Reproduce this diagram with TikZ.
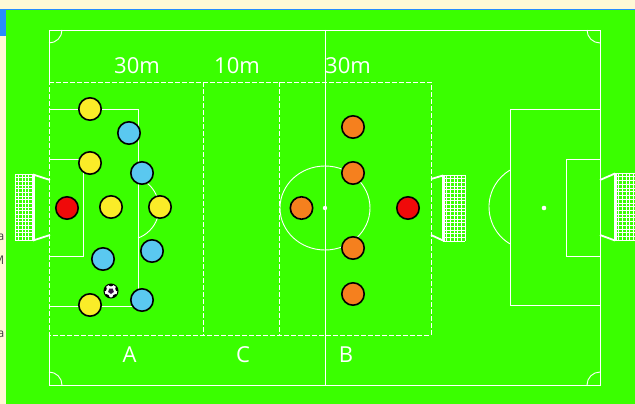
\documentclass[tikz,border=0pt]{standalone}
\usepackage{fontspec}
\setmainfont{Open Sans}
\definecolor{turf}{RGB}{58,255,0}
\definecolor{paper}{RGB}{255,249,214}
\definecolor{barblue}{RGB}{40,140,255}
\definecolor{pyellow}{RGB}{250,236,40}
\definecolor{pblue}{RGB}{90,200,240}
\definecolor{pred}{RGB}{240,10,10}
\definecolor{porange}{RGB}{245,128,30}
\definecolor{patch}{RGB}{60,20,70}
\begin{document}
\begin{tikzpicture}[x=1pt,y=-1pt,
  pitchline/.style={white, line width=0.9pt},
  zoneline/.style={white, line width=0.9pt, dash pattern=on 5pt off 2pt},
  netline/.style={white, line width=0.5pt},
  goalpost/.style={white, line width=3pt},
  goalbar/.style={white, line width=1.8pt},
  player/.style={circle, draw=black, line width=1.6pt, minimum size=22.4pt, inner sep=0pt},
  lbl/.style={text=white, font=\fontsize{22}{22}\selectfont, anchor=base, inner sep=0pt},
  margintext/.style={text=black!75, font=\fontsize{12}{12}\selectfont, anchor=base east, inner sep=0pt}]
\useasboundingbox (0,0) rectangle (635,404);

% page background, header rule and turf
\fill[paper] (0,0) rectangle (635,404);
\fill[turf] (6,10) rectangle (635,404);
\fill[barblue] (0,9) rectangle (635,10.5);
\fill[barblue] (0,9) rectangle (6,36);

% text running off the left margin
\begin{scope}
  \clip (0,36) rectangle (5,404);
  \node[margintext] (m1) at (4.5,240) {a};
  \node[margintext] (m2) at (4.5,264) {M};
  \node[margintext] (m3) at (4.5,337) {a};
\end{scope}

% outer lines and halfway line
\draw[pitchline] (49,82) -- (49,30) -- (600,30) -- (600,385) -- (49,385) -- (49,335);
\draw[pitchline] (325,30) -- (325,385);
% corner arcs
\draw[pitchline] (62,30) arc[start angle=0, end angle=90, radius=13];
\draw[pitchline] (600,43) arc[start angle=90, end angle=180, radius=13];
\draw[pitchline] (587,385) arc[start angle=180, end angle=270, radius=13];
\draw[pitchline] (49,372) arc[start angle=270, end angle=360, radius=13];

% centre circle and spot
\draw[pitchline] (325,208) ellipse[x radius=45, y radius=42];
\fill[white] (325,208) circle (2.2);

% left penalty area, goal area and arc
\draw[pitchline] (49,109) -- (138,109) -- (138,306) -- (49,306);
\draw[pitchline] (49,159) -- (83,159) -- (83,256) -- (49,256);
\draw[pitchline] (127,208) ++(-70:32) arc[start angle=-70, end angle=70, radius=32];

% right penalty area, goal area, arc and spot
\draw[pitchline] (600,109) -- (510,109) -- (510,305) -- (600,305);
\draw[pitchline] (600,159) -- (566,159) -- (566,256) -- (600,256);
\draw[pitchline] (532,207) ++(121:43) arc[start angle=121, end angle=239, radius=43];
\fill[white] (544,208) circle (2.3);

% training zones A, C, B
\draw[zoneline] (49,82) -- (431,82) -- (431,335) -- (49,335) -- cycle;
\draw[zoneline] (203,82) -- (203,335);
\draw[zoneline] (279,82) -- (279,335);

% left goal (net outside the line)
\foreach \i in {0,...,5} \draw[netline] (15+\i*3.4,174) -- (15+\i*3.4,240);
\foreach \j in {0,...,18} \draw[netline] (15,174+\j*3.67) -- (33,174+\j*3.67);
\draw[goalpost] (33,174) -- (33,241);
\draw[goalbar] (33,174.5) -- (50,180);
\draw[goalbar] (33,240.5) -- (50,235);

% small goal at the end of zone B
\foreach \i in {0,...,6} \draw[netline] (443+\i*3.67,175) -- (443+\i*3.67,241);
\foreach \j in {0,...,18} \draw[netline] (443,175+\j*3.67) -- (465,175+\j*3.67);
\draw[goalpost] (443,175) -- (443,241);
\draw[goalbar] (431,179) -- (443,175.5);
\draw[goalbar] (431,235) -- (443,240.5);

% right goal
\foreach \i in {0,...,6} \draw[netline] (615+\i*3.67,173) -- (615+\i*3.67,241);
\foreach \j in {0,...,18} \draw[netline] (615,173+\j*3.72) -- (640,173+\j*3.72);
\draw[goalpost] (615,173) -- (615,241);
\draw[goalbar] (600,180) -- (615,173.5);
\draw[goalbar] (600,235) -- (615,240.5);

% distance labels and zone letters
\node[lbl] (d1) at (137,74) {30m};
\node[lbl] (d2) at (237,74) {10m};
\node[lbl] (d3) at (348,74) {30m};
\node[lbl] (zA) at (129.5,362) {A};
\node[lbl] (zC) at (243,362) {C};
\node[lbl] (zB) at (346,362) {B};

% yellow team
\node[player, fill=pyellow] (y1) at (90,109) {};
\node[player, fill=pyellow] (y2) at (90,163) {};
\node[player, fill=pyellow] (y3) at (111,207) {};
\node[player, fill=pyellow] (y4) at (160,207) {};
\node[player, fill=pyellow] (y5) at (90,305) {};
% blue team
\node[player, fill=pblue] (b1) at (129,133) {};
\node[player, fill=pblue] (b2) at (142,173) {};
\node[player, fill=pblue] (b3) at (103,259) {};
\node[player, fill=pblue] (b4) at (152,251) {};
\node[player, fill=pblue] (b5) at (142,300) {};
% goalkeepers
\node[player, fill=pred] (k1) at (67,208) {};
\node[player, fill=pred] (k2) at (408,208) {};
% orange team
\node[player, fill=porange] (o1) at (301.5,208) {};
\node[player, fill=porange] (o2) at (353,127) {};
\node[player, fill=porange] (o3) at (353,173) {};
\node[player, fill=porange] (o4) at (353,248) {};
\node[player, fill=porange] (o5) at (353,294) {};

% ball
\node[circle, fill=white, minimum size=14pt, inner sep=0pt] (ball) at (111,291) {};
\begin{scope}
  \clip (ball.center) circle (7);
  \fill[patch] (ball.center) +(90:3) -- +(162:3) -- +(234:3) -- +(306:3) -- +(18:3) -- cycle;
  \foreach \a in {54,126,198,270,342} \fill[black] (ball.center) +(\a:7.6) circle (3);
\end{scope}
\draw[black, line width=1pt] (ball.center) circle (7);
\end{tikzpicture}
\end{document}
